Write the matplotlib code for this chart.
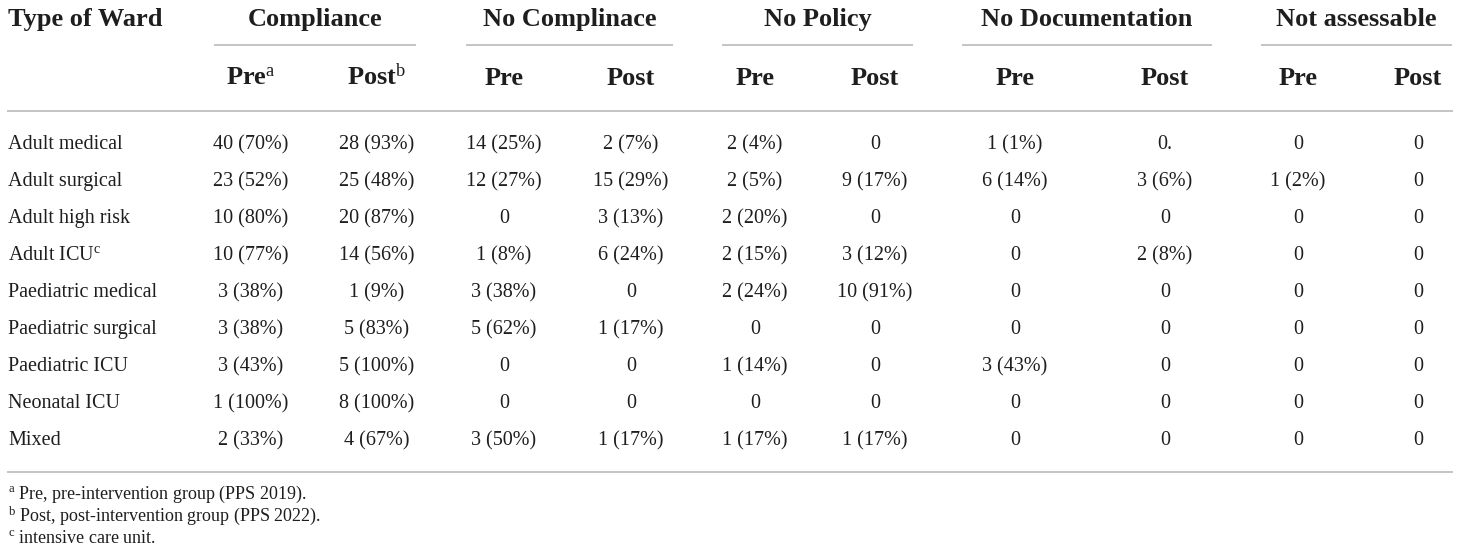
import matplotlib
matplotlib.use("Agg")
import matplotlib.pyplot as plt

plt.rcParams['font.family'] = ['Liberation Serif', 'DejaVu Serif']
plt.rcParams['mathtext.fontset'] = 'custom'
plt.rcParams['mathtext.rm'] = 'Liberation Serif'
plt.rcParams['mathtext.it'] = 'Liberation Serif:italic'
plt.rcParams['mathtext.bf'] = 'Liberation Serif:bold'

# table content
wards = ['Adult medical', 'Adult surgical', 'Adult high risk', r'Adult ICU$^{\mathrm{c}}$',
         'Paediatric medical', 'Paediatric surgical', 'Paediatric ICU', 'Neonatal ICU', 'Mixed']
groups = ['Compliance', 'No Complinace', 'No Policy', 'No Documentation', 'Not assessable']
sub_heads = [r'Pre$^{\mathrm{a}}$', r'Post$^{\mathrm{b}}$', 'Pre', 'Post', 'Pre', 'Post',
             'Pre', 'Post', 'Pre', 'Post']

comp_pre = ['40 (70%)', '23 (52%)', '10 (80%)', '10 (77%)', '3 (38%)', '3 (38%)', '3 (43%)', '1 (100%)', '2 (33%)']
comp_post = ['28 (93%)', '25 (48%)', '20 (87%)', '14 (56%)', '1 (9%)', '5 (83%)', '5 (100%)', '8 (100%)', '4 (67%)']
nocomp_pre = ['14 (25%)', '12 (27%)', '0', '1 (8%)', '3 (38%)', '5 (62%)', '0', '0', '3 (50%)']
nocomp_post = ['2 (7%)', '15 (29%)', '3 (13%)', '6 (24%)', '0', '1 (17%)', '0', '0', '1 (17%)']
nopol_pre = ['2 (4%)', '2 (5%)', '2 (20%)', '2 (15%)', '2 (24%)', '0', '1 (14%)', '0', '1 (17%)']
nopol_post = ['0', '9 (17%)', '0', '3 (12%)', '10 (91%)', '0', '0', '0', '1 (17%)']
nodoc_pre = ['1 (1%)', '6 (14%)', '0', '0', '0', '0', '3 (43%)', '0', '0']
nodoc_post = ['0.', '3 (6%)', '0', '2 (8%)', '0', '0', '0', '0', '0']
na_pre = ['0', '1 (2%)', '0', '0', '0', '0', '0', '0', '0']
na_post = ['0', '0', '0', '0', '0', '0', '0', '0', '0']

footnotes = [r'$^{\mathrm{a}}$ Pre, pre-intervention group (PPS 2019).',
             r'$^{\mathrm{b}}$ Post, post-intervention group (PPS 2022).',
             r'$^{\mathrm{c}}$ intensive care unit.']

columns = [comp_pre, comp_post, nocomp_pre, nocomp_post, nopol_pre, nopol_post,
           nodoc_pre, nodoc_post, na_pre, na_post]

# layout (pixel space, text placed on baselines)
col_x = [251, 377, 504, 631, 755, 875, 1015, 1165, 1298, 1418]
group_span = [(214, 416), (466, 673), (722, 913), (962, 1212), (1261, 1452)]
row_base = [149, 186, 223, 260, 297, 334, 371, 408, 445]
txt = '#1e1e1e'
rule = '#c4c4c4'

fig = plt.figure(figsize=(14.6, 5.6), dpi=100)
ax = fig.add_axes([0, 0, 1, 1])
ax.set_xlim(0, 1460)
ax.set_ylim(560, 0)
ax.axis('off')

hd = dict(fontsize=19, fontweight='bold', color=txt, va='baseline')
# header
ax.text(8, 26, 'Type of Ward', ha='left', **hd)
for g, (x0, x1) in zip(groups, group_span):
    ax.text((x0 + x1) / 2, 26, g, ha='center', **hd)
    ax.plot([x0, x1], [45, 45], color=rule, lw=1.4, solid_capstyle='butt')
for h, x in zip(sub_heads, col_x):
    ax.text(x, 85, h, ha='center', **hd)
ax.plot([8, 1452], [111, 111], color=rule, lw=1.4)

# body
for w, y in zip(wards, row_base):
    ax.text(8, y, w, fontsize=14.5, color=txt, ha='left', va='baseline')
for col, x in zip(columns, col_x):
    for v, y in zip(col, row_base):
        ax.text(x, y, v, fontsize=14.5, color=txt, ha='center', va='baseline')
ax.plot([8, 1452], [472, 472], color=rule, lw=1.4)

for i, f in enumerate(footnotes):
    ax.text(8, 499 + 22 * i, f, fontsize=13, color=txt, ha='left', va='baseline')

fig.savefig('out.png', dpi=100)
plt.close()
